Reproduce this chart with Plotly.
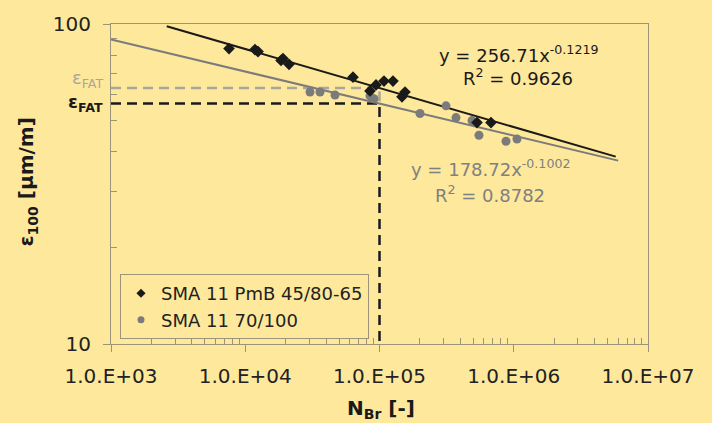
import plotly.graph_objects as go

# ---- data ----
pmb_N = [7570, 11820, 12450, 18470, 19100, 21180, 63480, 84950, 94190, 108000,
         126000, 147100, 154900, 532400, 677000]
pmb_eps = [83.8, 83.2, 82.0, 76.9, 78.0, 74.8, 68.2, 61.8, 64.5, 66.3,
           66.3, 59.2, 61.3, 49.2, 49.2]

std_N = [30360, 36050, 46620, 84950, 91000, 200300, 312900, 371400, 488700,
         550800, 875600, 1057000]
std_eps = [61.3, 61.3, 60.0, 59.6, 58.4, 52.5, 55.5, 51.0, 49.9, 44.9, 43.0, 43.7]

# power-law fits y = a * x^b (as shown on the chart)
pmb_fit = {"a": 256.71, "b": -0.1219, "r2": 0.9626, "x": [2600, 5.75e6]}
std_fit = {"a": 178.72, "b": -0.1002, "r2": 0.8782, "x": [1000, 6.0e6]}

N_fat = 1e5
eps_fat_grey = 63.1
eps_fat_black = 56.4

x_tickvals = [1e3, 1e4, 1e5, 1e6, 1e7]
x_ticktext = ["1.0.E+03", "1.0.E+04", "1.0.E+05", "1.0.E+06", "1.0.E+07"]
y_tickvals = [10, 100]
y_ticktext = ["10", "100"]

BG = "#FEE89C"
AXC = "#9c9478"
BLACK = "#1a1a1a"
GREY = "#7b7b7b"
LGREY = "#a9a79c"
FONT = "DejaVu Sans"

fig = go.Figure()

# dashed reference lines
fig.add_trace(go.Scatter(x=[1e3, N_fat, N_fat], y=[eps_fat_grey, eps_fat_grey, eps_fat_black],
                         mode="lines", line=dict(color=LGREY, width=2.5, dash="10px,6px"),
                         showlegend=False, hoverinfo="skip"))
fig.add_trace(go.Scatter(x=[1e3, N_fat, N_fat], y=[eps_fat_black, eps_fat_black, 10],
                         mode="lines", line=dict(color=BLACK, width=2.5, dash="10px,6px"),
                         showlegend=False, hoverinfo="skip"))

# fit lines
for f, c in ((std_fit, GREY), (pmb_fit, BLACK)):
    fy = [f["a"] * xv ** f["b"] for xv in f["x"]]
    fig.add_trace(go.Scatter(x=f["x"], y=fy, mode="lines", line=dict(color=c, width=2),
                             showlegend=False, hoverinfo="skip"))

# data points
fig.add_trace(go.Scatter(x=std_N, y=std_eps, mode="markers",
                         marker=dict(symbol="circle", size=9, color=GREY),
                         showlegend=False))
fig.add_trace(go.Scatter(x=pmb_N, y=pmb_eps, mode="markers",
                         marker=dict(symbol="diamond", size=9, color=BLACK),
                         showlegend=False))

# legend entries (smaller symbols as in the reference)
fig.add_trace(go.Scatter(x=[None], y=[None], mode="markers", name="SMA 11 PmB 45/80-65",
                         marker=dict(symbol="diamond", size=7, color=BLACK)))
fig.add_trace(go.Scatter(x=[None], y=[None], mode="markers", name="SMA 11 70/100",
                         marker=dict(symbol="circle", size=7, color=GREY)))

def px_x(px):
    return (px - 111) / 537.0

def px_y(py):
    return (344 - py) / 325.0

ann = [
    dict(x=px_x(518), y=px_y(49), text="y = %.2fx<sup>%.4f</sup>" % (pmb_fit["a"], pmb_fit["b"]),
         color=BLACK, size=18, xa="center"),
    dict(x=px_x(518), y=px_y(73), text="R<sup>2</sup> = %.4f" % pmb_fit["r2"],
         color=BLACK, size=18, xa="center"),
    dict(x=px_x(490), y=px_y(165), text="y = %.2fx<sup>%.4f</sup>" % (std_fit["a"], std_fit["b"]),
         color="#808080", size=18, xa="center"),
    dict(x=px_x(490), y=px_y(192), text="R<sup>2</sup> = %.4f" % std_fit["r2"],
         color="#808080", size=18, xa="center"),
    dict(x=px_x(105), y=px_y(75), text="ε<sub>FAT</sub>", color=LGREY, size=18, xa="right"),
    dict(x=px_x(105), y=px_y(99), text="<b>ε<sub>FAT</sub></b>", color=BLACK, size=18, xa="right"),
]
annotations = [dict(xref="paper", yref="paper", x=a["x"], y=a["y"], text=a["text"],
                    showarrow=False, xanchor=a["xa"], yanchor="middle",
                    font=dict(family=FONT, size=a["size"], color=a["color"])) for a in ann]
annotations.append(dict(xref="paper", yref="paper", x=px_x(27), y=px_y(180),
                        text="<b>ε<sub>100</sub> [µm/m]</b>", textangle=-90, showarrow=False,
                        xanchor="center", yanchor="middle",
                        font=dict(family=FONT, size=20, color=BLACK)))
annotations.append(dict(xref="paper", yref="paper", x=px_x(381), y=px_y(410),
                        text="<b>N<sub>Br</sub> [-]</b>", showarrow=False,
                        xanchor="center", yanchor="middle",
                        font=dict(family=FONT, size=20, color=BLACK)))

x_minor = [m * 10 ** e for e in range(3, 7) for m in range(2, 10)]
y_minor = [m * 10 for m in range(2, 10)]

fig.update_layout(
    width=712, height=423,
    margin=dict(l=111, r=64, t=19, b=79),
    paper_bgcolor=BG, plot_bgcolor=BG,
    font=dict(family=FONT, size=19, color="#222222"),
    annotations=annotations,
    legend=dict(x=px_x(120), y=px_y(273), xanchor="left", yanchor="top",
                bgcolor=BG, bordercolor=AXC, borderwidth=1,
                font=dict(family=FONT, size=18, color="#222222"),
                itemwidth=30),
    xaxis=dict(type="log", range=[3, 7], tickmode="array", tickvals=x_tickvals,
               ticktext=x_ticktext, showgrid=False, zeroline=False,
               showline=True, linecolor=AXC, linewidth=1, mirror=True,
               ticks="outside", ticklen=7, tickcolor=AXC,
               ticklabelstandoff=7,
               tickfont=dict(family=FONT, size=20, color="#222222"),
               minor=dict(tickmode="array", tickvals=x_minor, ticks="inside",
                          ticklen=6, tickcolor=AXC, showgrid=False)),
    yaxis=dict(type="log", range=[1, 2], tickmode="array", tickvals=y_tickvals,
               ticktext=y_ticktext, showgrid=False, zeroline=False,
               showline=True, linecolor=AXC, linewidth=1, mirror=True,
               ticks="outside", ticklen=7, tickcolor=AXC,
               ticklabelstandoff=8,
               tickfont=dict(family=FONT, size=20, color="#222222"),
               minor=dict(tickmode="array", tickvals=y_minor, ticks="inside",
                          ticklen=6, tickcolor=AXC, showgrid=False)),
)

fig.write_html("out.html", config={"displayModeBar": False},
               post_script="document.body.style.margin='0';document.body.style.overflow='hidden';")
